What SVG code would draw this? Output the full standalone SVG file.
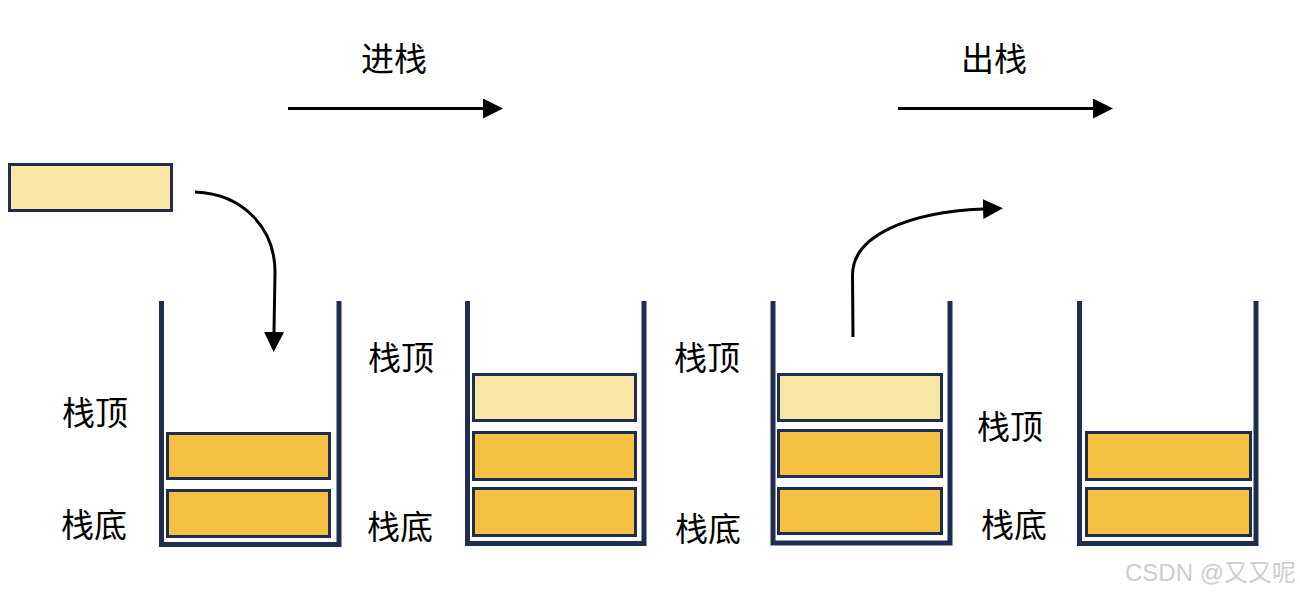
<svg xmlns="http://www.w3.org/2000/svg" width="1300" height="594" viewBox="0 0 1300 594">
<style>
.wall{fill:none;stroke:#1f2d50;stroke-width:5}
.blk{stroke:#1f2d50;stroke-width:3}
.dark{fill:#f4c142}
.light{fill:#fae6a5}
.lbl{font-family:"Noto Sans CJK SC","Noto Sans CJK JP",sans-serif;font-size:33px;fill:#000}
.conn{fill:none;stroke:#000;stroke-width:3}
.wm{font-family:"Liberation Sans","Noto Sans CJK SC",sans-serif;font-size:24px;fill:#cdcdcd}
</style>
<defs>
<marker id="ah" viewBox="0 0 20 20" refX="0" refY="10" markerWidth="20" markerHeight="20" markerUnits="userSpaceOnUse" orient="auto">
<path d="M0,0 L20,10 L0,20 z" fill="#000"/>
</marker>
</defs>
<rect width="1300" height="594" fill="#fff"/>

<g id="incoming">
<rect class="blk light" x="9.5" y="164.5" width="162" height="46"/>
</g>

<g id="stack1">
<path class="wall" d="M161.5 301 V544.5 H339 V301"/>
<rect class="blk dark" x="167.5" y="433.5" width="162" height="45"/>
<rect class="blk dark" x="167.5" y="490.5" width="162" height="46"/>
<text class="lbl" x="62" y="425">栈顶</text>
<text class="lbl" x="61" y="537">栈底</text>
</g>

<g id="stack2">
<path class="wall" d="M467.5 301 V543.5 H644 V301"/>
<rect class="blk light" x="473.5" y="374.5" width="162" height="46"/>
<rect class="blk dark" x="473.5" y="432.5" width="162" height="47"/>
<rect class="blk dark" x="473.5" y="488.5" width="162" height="47"/>
<text class="lbl" x="368" y="370">栈顶</text>
<text class="lbl" x="367" y="539">栈底</text>
</g>

<g id="stack3">
<path class="wall" d="M773 301 V543 H950 V301"/>
<rect class="blk light" x="778.5" y="374.5" width="163" height="46"/>
<rect class="blk dark" x="778.5" y="430.5" width="163" height="46"/>
<rect class="blk dark" x="778.5" y="488.5" width="163" height="45"/>
<text class="lbl" x="674" y="370">栈顶</text>
<text class="lbl" x="675" y="541">栈底</text>
</g>

<g id="stack4">
<path class="wall" d="M1079.5 301 V543.5 H1256 V301"/>
<rect class="blk dark" x="1086.5" y="432.5" width="164" height="47"/>
<rect class="blk dark" x="1086.5" y="488.5" width="164" height="47"/>
<text class="lbl" x="977" y="439">栈顶</text>
<text class="lbl" x="981" y="537">栈底</text>
</g>

<g id="titles">
<text class="lbl" x="361" y="71">进栈</text>
<text class="lbl" x="961" y="71">出栈</text>
</g>

<g id="connectors">
<path class="conn" d="M288 108.5 H483" marker-end="url(#ah)"/>
<path class="conn" d="M898 108.5 H1093" marker-end="url(#ah)"/>
<path class="conn" d="M195 192 C245 194 275 230 275 272 L274 332" marker-end="url(#ah)"/>
<path class="conn" d="M853 337 L852.5 275 C852.5 235 910 212 983 209" marker-end="url(#ah)"/>
</g>

<text class="wm" x="1125" y="581">CSDN @又又呢</text>
</svg>
